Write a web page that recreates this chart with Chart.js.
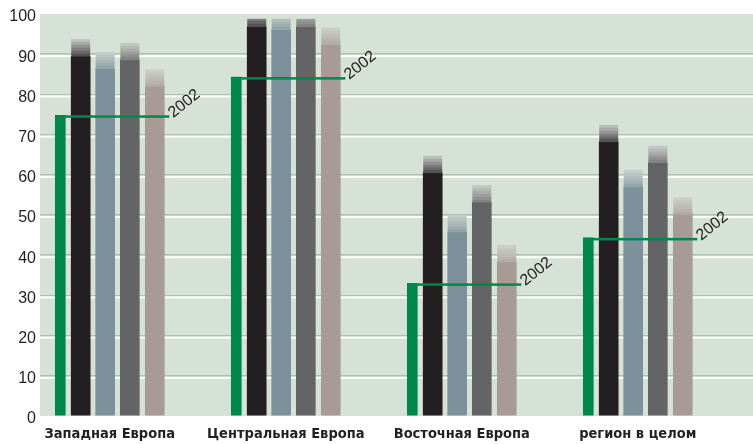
<!DOCTYPE html>
<html>
<head>
<meta charset="utf-8">
<script src="https://cdn.jsdelivr.net/npm/chart.js@4/dist/chart.umd.min.js"></script>
<style>
  html, body { margin: 0; padding: 0; background: #ffffff; }
  #c { display: block; }
</style>
</head>
<body>
<canvas id="c" width="753" height="444"></canvas>
<script>
// Regions along the horizontal axis
const categories = ['Западная Европа', 'Центральная Европа', 'Восточная Европа', 'регион в целом'];

// 2002 reference level (green bar with the horizontal marker)
const level2002 = [74.8, 84.3, 33.0, 44.3];

// Four comparison series per region
const seriesBlack = [89.5, 96.9, 60.5, 68.2];
const seriesBlue  = [86.4, 96.1, 45.8, 57.0];
const seriesGray  = [88.6, 96.9, 53.2, 63.0];
const seriesRose  = [82.0, 92.4, 38.3, 50.2];

// Value axis ticks
const yTicks = [0, 10, 20, 30, 40, 50, 60, 70, 80, 90, 100];

// ---- styling / layout ----
const BG = '#d7e2d6';
const GRID_GREEN = '#a8c5a6';
const TEXT = '#231f20';
const GREEN = '#00874b';
const FADE_H = 17;          // px height of the faded cap on top of each bar
const FADE_CAP = 98.8;      // the faded cap never rises above this value
const FADE_LIGHT = [208, 213, 207];
const FADE_STEPS = [0.88, 0.76, 0.64, 0.52, 0.40, 0.28];

// horizontal position of each series inside a region group (in category units)
const seriesDefs = [
  { label: 'series0', data: level2002,   color: GREEN,     rgb: [0, 135, 75],   shift: -0.281, thick: 10, fade: false },
  { label: 'series1', data: seriesBlack, color: '#231f20', rgb: [35, 31, 32],   shift: -0.165, thick: 19, fade: true },
  { label: 'series2', data: seriesBlue,  color: '#7b929c', rgb: [123, 146, 156], shift: -0.026, thick: 19, fade: true },
  { label: 'series3', data: seriesGray,  color: '#636466', rgb: [99, 100, 102], shift: 0.114,  thick: 19, fade: true },
  { label: 'series4', data: seriesRose,  color: '#a89b97', rgb: [168, 155, 151], shift: 0.256,  thick: 19, fade: true }
];

const datasets = seriesDefs.map(s => ({
  label: s.label,
  data: s.data.map((v, i) => ({ x: i + s.shift, y: v })),
  backgroundColor: s.color,
  borderWidth: 0,
  barThickness: s.thick,
  grouped: false
}));

const backgroundPlugin = {
  id: 'plotBackground',
  beforeDraw(chart) {
    const { ctx, chartArea: a } = chart;
    ctx.save();
    ctx.fillStyle = BG;
    ctx.fillRect(a.left, a.top, a.right - a.left, a.bottom - a.top);
    ctx.restore();
  },
  beforeDatasetsDraw(chart) {
    // white highlight line just under every green grid line
    const { ctx, chartArea: a, scales: { y } } = chart;
    ctx.save();
    ctx.fillStyle = '#ffffff';
    yTicks.forEach(v => {
      if (v === 0 || v === 100) return;
      const py = y.getPixelForValue(v);
      ctx.fillRect(a.left, py + 1, a.right - a.left, 2);
    });
    ctx.restore();
  }
};

function mix(rgb, t) {
  const c = rgb.map((ch, k) => Math.round(ch * (1 - t) + FADE_LIGHT[k] * t));
  return `rgb(${c[0]},${c[1]},${c[2]})`;
}

const capsPlugin = {
  id: 'barCaps',
  afterDatasetsDraw(chart) {
    const { ctx, scales: { y } } = chart;
    const capY = y.getPixelForValue(FADE_CAP);
    ctx.save();
    // faded caps
    seriesDefs.forEach((s, di) => {
      if (!s.fade) return;
      chart.getDatasetMeta(di).data.forEach(bar => {
        const left = bar.x - bar.width / 2;
        const bandH = FADE_H / FADE_STEPS.length;
        FADE_STEPS.forEach((t, k) => {
          let y0 = bar.y - FADE_H + k * bandH;
          let y1 = y0 + bandH;
          if (y1 <= capY) return;
          y0 = Math.max(y0, capY);
          ctx.fillStyle = mix(s.rgb, t);
          ctx.fillRect(left, y0, bar.width, y1 - y0 + 0.3);
        });
      });
    });
    // 2002 marker: line from the green bar top across the group, with a tilted label
    const greenBars = chart.getDatasetMeta(0).data;
    const lastBars = chart.getDatasetMeta(seriesDefs.length - 1).data;
    greenBars.forEach((bar, i) => {
      const x0 = bar.x - bar.width / 2;
      const last = lastBars[i];
      const x1 = last.x + last.width / 2 + 5;
      ctx.fillStyle = GREEN;
      ctx.fillRect(x0, bar.y, x1 - x0, 2.5);
      ctx.save();
      ctx.translate(x1 + 4, bar.y + 3);
      ctx.rotate(-39 * Math.PI / 180);
      ctx.fillStyle = TEXT;
      ctx.font = '16px "Liberation Sans", Arial, sans-serif';
      ctx.textAlign = 'left';
      ctx.textBaseline = 'alphabetic';
      ctx.fillText('2002', 0, 0);
      ctx.restore();
    });
    ctx.restore();
  }
};

new Chart(document.getElementById('c'), {
  type: 'bar',
  data: { datasets },
  options: {
    responsive: false,
    animation: false,
    devicePixelRatio: 1,
    layout: { padding: { top: 14, right: 0, bottom: 0, left: 0 } },
    plugins: { legend: { display: false }, tooltip: { enabled: false } },
    scales: {
      x: {
        type: 'linear',
        offset: false,
        min: -0.3963,
        max: 3.6548,
        grid: { display: false, drawTicks: false },
        border: { display: false },
        afterBuildTicks: axis => { axis.ticks = categories.map((_, i) => ({ value: i })); },
        afterFit: axis => { axis.height = 28; },
        ticks: {
          autoSkip: false,
          maxRotation: 0,
          padding: 10,
          color: TEXT,
          font: { family: '"Liberation Sans Narrow", "DejaVu Sans Condensed", sans-serif', size: 14.5, weight: 'bold' },
          callback: v => categories[v] ?? ''
        }
      },
      y: {
        min: 0,
        max: 100,
        afterBuildTicks: axis => { axis.ticks = yTicks.map(v => ({ value: v })); },
        afterFit: axis => { axis.width = 40; },
        grid: {
          drawTicks: false,
          lineWidth: 1.5,
          color: ctx => (ctx.tick && (ctx.tick.value === 0 || ctx.tick.value === 100)) ? 'rgba(0,0,0,0)' : GRID_GREEN
        },
        border: { display: false },
        ticks: {
          padding: 4,
          labelOffset: 3,
          color: TEXT,
          font: { family: '"Liberation Sans", Arial, sans-serif', size: 16 }
        }
      }
    }
  },
  plugins: [backgroundPlugin, capsPlugin]
});
</script>
</body>
</html>
